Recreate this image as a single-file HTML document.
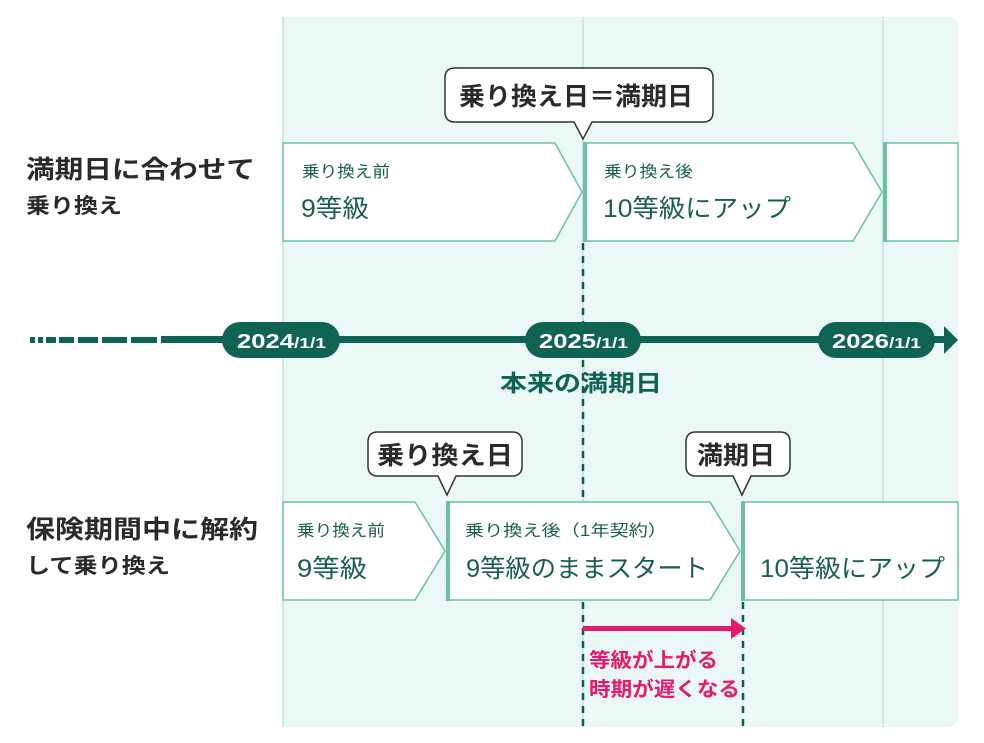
<!DOCTYPE html>
<html><head><meta charset="utf-8"><style>
html,body{margin:0;padding:0;background:#fff}
svg{display:block}
text{font-family:"Liberation Sans","Noto Sans CJK JP",sans-serif}
</style></head><body>
<svg width="984" height="743" viewBox="0 0 984 743" xmlns="http://www.w3.org/2000/svg">
<path d="M283 17 H948 Q958 17 958 27 V717 Q958 727 948 727 H283 Z" fill="#ebf9f6"/>
<g stroke="#bfe3d9" stroke-width="1.5">
<line x1="283" y1="17" x2="283" y2="727"/><line x1="583" y1="17" x2="583" y2="727"/><line x1="883" y1="17" x2="883" y2="727"/>
</g>
<g font-weight="bold" fill="#2a2a2a" lengthAdjust="spacingAndGlyphs">
<text x="26" y="178" font-size="25" textLength="229" lengthAdjust="spacingAndGlyphs">満期日に合わせて</text>
<text x="26" y="213" font-size="21" textLength="96" lengthAdjust="spacingAndGlyphs">乗り換え</text>
<text x="26" y="538" font-size="25" textLength="232" lengthAdjust="spacingAndGlyphs">保険期間中に解約</text>
<text x="26" y="573" font-size="21" textLength="144" lengthAdjust="spacingAndGlyphs">して乗り換え</text>
</g>
<g stroke="#0e5e4f" stroke-width="2.5" stroke-dasharray="7,6">
<line x1="583" y1="243" x2="583" y2="322"/>
<line x1="583" y1="360" x2="583" y2="500"/>
<line x1="583" y1="602" x2="583" y2="727"/>
<line x1="743" y1="602" x2="743" y2="727"/>
</g>
<g fill="#fff" stroke="#6cbfa8" stroke-width="1.5">
<path d="M283 143 H555 L582 192 L555 241 H283 Z"/>
<path d="M585 143 H853 L882 192 L853 241 H585 Z"/>
<path d="M885 143 H958 V241 H885 Z"/>
<path d="M283 502 H415 L445 551 L415 600 H283 Z"/>
<path d="M447 502 H710 L740 551 L710 600 H447 Z"/>
<path d="M742 502 H958 V600 H742 Z"/>
</g>
<g fill="#6cbfa8">
<rect x="583" y="142" width="4" height="100"/><rect x="883" y="142" width="4" height="100"/>
<rect x="446" y="501" width="4" height="100"/><rect x="741" y="501" width="4" height="100"/>
</g>
<g fill="#1a5e51">
<text x="302" y="177" font-size="16" textLength="88" lengthAdjust="spacingAndGlyphs">乗り換え前</text>
<text x="301" y="217" font-size="25" textLength="68" lengthAdjust="spacingAndGlyphs">9等級</text>
<text x="604" y="177" font-size="16" textLength="89" lengthAdjust="spacingAndGlyphs">乗り換え後</text>
<text x="603" y="217" font-size="25" textLength="188" lengthAdjust="spacingAndGlyphs">10等級にアップ</text>
<text x="297" y="536" font-size="16" textLength="88" lengthAdjust="spacingAndGlyphs">乗り換え前</text>
<text x="297" y="577" font-size="25" textLength="70" lengthAdjust="spacingAndGlyphs">9等級</text>
<text x="465" y="536" font-size="16" textLength="202" lengthAdjust="spacingAndGlyphs">乗り換え後（1年契約）</text>
<text x="466" y="577" font-size="25" textLength="242" lengthAdjust="spacingAndGlyphs">9等級のままスタート</text>
<text x="760" y="577" font-size="25" textLength="185" lengthAdjust="spacingAndGlyphs">10等級にアップ</text>
</g>
<g fill="#fff" stroke="#333" stroke-width="1.5">
<path d="M455 68 H703 Q713 68 713 78 V112 Q713 122 703 122 H592 L583 139 L574 122 H455 Q445 122 445 112 V78 Q445 68 455 68 Z"/>
<path d="M378 432 H512 Q522 432 522 442 V466 Q522 476 512 476 H456 L447 495 L438 476 H378 Q368 476 368 466 V442 Q368 432 378 432 Z"/>
<path d="M696 432 H780 Q790 432 790 442 V466 Q790 476 780 476 H751 L742 495 L733 476 H696 Q686 476 686 466 V442 Q686 432 696 432 Z"/>
</g>
<g font-weight="bold" fill="#2a2a2a" font-size="25">
<text x="459" y="105" textLength="234" lengthAdjust="spacingAndGlyphs">乗り換え日＝満期日</text>
<text x="377" y="464" textLength="136" lengthAdjust="spacingAndGlyphs">乗り換え日</text>
<text x="697" y="464" textLength="78" lengthAdjust="spacingAndGlyphs">満期日</text>
</g>
<g fill="#0e6352">
<rect x="30" y="337" width="5" height="6"/><rect x="38" y="337" width="5" height="6"/>
<rect x="46" y="337" width="10" height="6"/><rect x="59" y="337" width="15" height="6"/>
<rect x="78" y="337" width="20" height="6"/><rect x="102" y="337" width="25" height="6"/>
<rect x="131" y="337" width="26" height="6"/><rect x="161" y="336" width="785" height="7"/>
<path d="M944 326 L958 340 L944 354 Z"/>
<rect x="222" y="322" width="118" height="36" rx="18"/>
<rect x="525" y="322" width="116" height="36" rx="18"/>
<rect x="818" y="322" width="117" height="36" rx="18"/>
</g>
<g fill="#fff" font-weight="bold">
<text x="237" y="348" font-size="20" textLength="89" lengthAdjust="spacingAndGlyphs">2024<tspan font-size="15">/1/1</tspan></text>
<text x="539" y="348" font-size="20" textLength="89" lengthAdjust="spacingAndGlyphs">2025<tspan font-size="15">/1/1</tspan></text>
<text x="832" y="348" font-size="20" textLength="89" lengthAdjust="spacingAndGlyphs">2026<tspan font-size="15">/1/1</tspan></text>
</g>
<text x="500" y="391" font-size="23" font-weight="bold" fill="#0e6352" textLength="162" lengthAdjust="spacingAndGlyphs">本来の満期日</text>
<rect x="583" y="626" width="150" height="5" fill="#e8196b"/>
<path d="M731 618 L746 628.5 L731 639 Z" fill="#e8196b"/>
<g fill="#e8196b" font-weight="bold" font-size="20">
<text x="589" y="667" textLength="129" lengthAdjust="spacingAndGlyphs">等級が上がる</text>
<text x="589" y="696" textLength="151" lengthAdjust="spacingAndGlyphs">時期が遅くなる</text>
</g>
</svg>
</body></html>
